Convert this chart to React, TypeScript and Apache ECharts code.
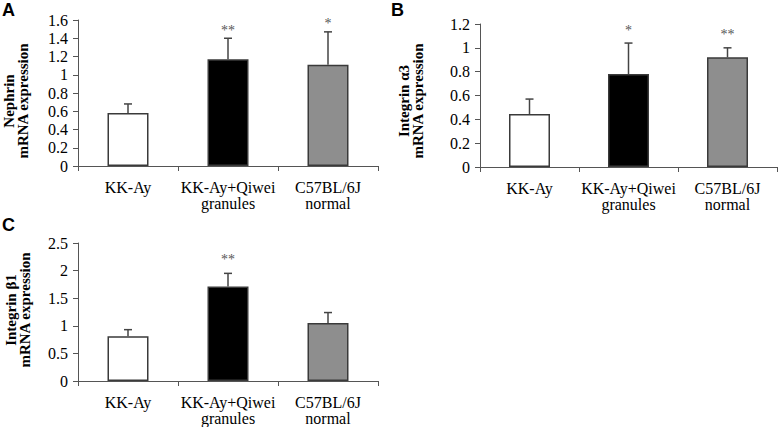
import React, { useEffect, useRef } from "react";
import * as echarts from "echarts";

const categories = ["KK-Ay", "KK-Ay+Qiwei\ngranules", "C57BL/6J\nnormal"];

const nephrinValues = [0.58, 1.17, 1.11];
const nephrinErrTop = [0.68, 1.4, 1.47];
const nephrinStars = ["", "**", "*"];

const a3Values = [0.445, 0.78, 0.92];
const a3ErrTop = [0.57, 1.04, 1.0];
const a3Stars = ["", "*", "**"];

const b1Values = [0.81, 1.71, 1.05];
const b1ErrTop = [0.93, 1.95, 1.24];
const b1Stars = ["", "**", ""];

const yMax = [1.6, 1.2, 2.5];
const yInterval = [0.2, 0.2, 0.5];
const panelLetters = ["A", "B", "C"];
const yTitles = ["Nephrin\nmRNA expression", "Integrin α3\nmRNA expression", "Integrin β1\nmRNA expression"];

const fills = ["#ffffff", "#000000", "#8e8e8e"];

const SERIF = "'Liberation Serif', 'DejaVu Serif', serif";

export default function App() {
  const ref = useRef<HTMLDivElement>(null);
  useEffect(() => {
    if (!ref.current) return;
    const chart = echarts.init(ref.current, undefined, { renderer: "svg" });
    const grids = [
      { left: 78, top: 20, width: 300, height: 146 },
      { left: 480, top: 24, width: 297, height: 143 },
      { left: 78, top: 243, width: 300, height: 138 },
    ];
    const valuesArr = [nephrinValues, a3Values, b1Values];
    const errArr = [nephrinErrTop, a3ErrTop, b1ErrTop];
    const starsArr = [nephrinStars, a3Stars, b1Stars];
    const starGap = [1, 6, 7];

    const xAxis = grids.map((_, i) => ({
      type: "category",
      gridIndex: i,
      data: categories,
      axisLine: { lineStyle: { color: "#555", width: 1 } },
      axisTick: { show: true, length: 5, lineStyle: { color: "#555" } },
      axisLabel: {
        fontFamily: SERIF,
        fontSize: 16,
        color: "#000",
        margin: 13,
        lineHeight: 16,
        interval: 0,
      },
    }));
    const yAxis = grids.map((_, i) => ({
      type: "value",
      gridIndex: i,
      min: 0,
      max: yMax[i],
      interval: yInterval[i],
      splitLine: { show: false },
      axisLine: { show: true, lineStyle: { color: "#555", width: 1 } },
      axisTick: { show: true, length: 5, lineStyle: { color: "#555" } },
      axisLabel: {
        fontFamily: SERIF,
        fontSize: 16,
        color: "#000",
        margin: 10,
      },
    }));

    const series: any[] = [];
    grids.forEach((_, i) => {
      series.push({
        type: "bar",
        xAxisIndex: i,
        yAxisIndex: i,
        barWidth: 41,
        data: valuesArr[i].map((v, k) => ({
          value: v,
          itemStyle: { color: fills[k], borderColor: "#3a3a3a", borderWidth: 1.5 },
        })),
      });
      const stars = starsArr[i];
      const gap = starGap[i];
      series.push({
        type: "custom",
        xAxisIndex: i,
        yAxisIndex: i,
        z: 5,
        data: valuesArr[i].map((v, k) => [k, v, errArr[i][k]]),
        renderItem: (params: any, api: any) => {
          const base = api.coord([api.value(0), api.value(1)]);
          const top = api.coord([api.value(0), api.value(2)]);
          const star = stars[params.dataIndex];
          const children: any[] = [
            {
              type: "line",
              shape: { x1: base[0], y1: base[1], x2: top[0], y2: top[1] },
              style: { stroke: "#444", lineWidth: 1.5 },
            },
            {
              type: "line",
              shape: { x1: top[0] - 4, y1: top[1], x2: top[0] + 4, y2: top[1] },
              style: { stroke: "#444", lineWidth: 1.5 },
            },
          ];
          if (star) {
            children.push({
              type: "text",
              x: top[0],
              y: top[1] - gap,
              style: {
                text: star,
                fontFamily: SERIF,
                fontSize: 14,
                fill: "#555",
                align: "center",
                verticalAlign: "bottom",
              },
            });
          }
          return { type: "group", children };
        },
      });
    });

    const titlePos = [
      [16, 101],
      [411, 101],
      [18, 310],
    ];
    const letterPos = [
      [2, 1],
      [391, 1],
      [2, 216],
    ];

    const graphic: any[] = [];
    for (let i = 0; i < 3; i++) {
      graphic.push({
        type: "text",
        x: titlePos[i][0],
        y: titlePos[i][1],
        rotation: Math.PI / 2,
        style: {
          text: yTitles[i],
          fontFamily: SERIF,
          fontWeight: "bold",
          fontSize: 15,
          lineHeight: 14,
          fill: "#000",
          align: "center",
          verticalAlign: "middle",
        },
      });
      graphic.push({
        type: "text",
        x: letterPos[i][0],
        y: letterPos[i][1],
        style: {
          text: panelLetters[i],
          fontFamily: "'Liberation Sans', Arial, sans-serif",
          fontWeight: "bold",
          fontSize: 18,
          fill: "#000",
          align: "left",
          verticalAlign: "top",
        },
      });
    }

    chart.setOption({
      animation: false,
      backgroundColor: "#fff",
      grid: grids.map((g) => ({ ...g, containLabel: false })),
      xAxis,
      yAxis,
      series,
      graphic,
    });
    return () => chart.dispose();
  }, []);
  return (
    <div
      ref={ref}
      style={{ position: "absolute", left: 0, top: 0, width: 778, height: 427 }}
    />
  );
}
